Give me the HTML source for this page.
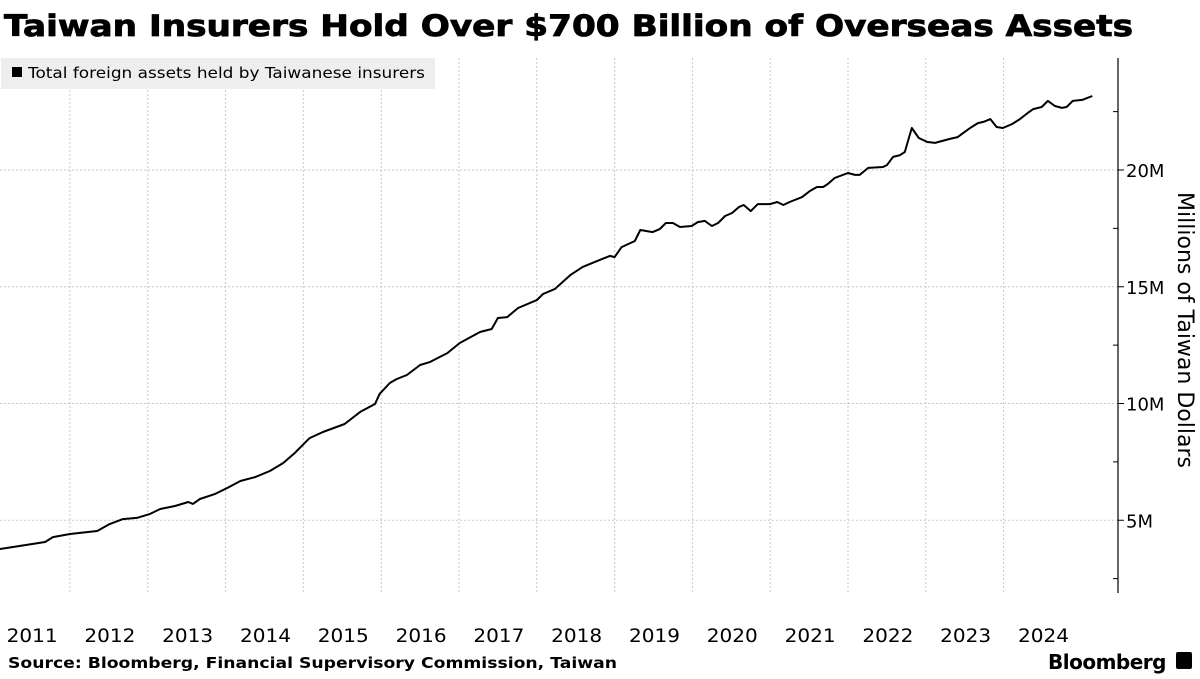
<!DOCTYPE html>
<html><head><meta charset="utf-8"><style>
body{margin:0;background:#fff;width:1200px;height:675px;overflow:hidden;font-family:"DejaVu Sans","Liberation Sans",sans-serif}
svg text{font-family:"DejaVu Sans","Liberation Sans",sans-serif}
</style></head><body>
<svg width="1200" height="675">
<text x="4" y="36" font-size="29" font-weight="bold" fill="#000" textLength="1129" lengthAdjust="spacingAndGlyphs" stroke="#000" stroke-width="0.8">Taiwan Insurers Hold Over $700 Billion of Overseas Assets</text>
<g id="grid"></g>
<rect x="1" y="58" width="434" height="31" fill="#eeeeee"/>
<rect x="12" y="67" width="10" height="10" fill="#000"/>
<text x="28" y="78" font-size="15" fill="#000" textLength="397" lengthAdjust="spacingAndGlyphs">Total foreign assets held by Taiwanese insurers</text>
<g id="marks"></g>
<line x1="1118" y1="58" x2="1118" y2="593" stroke="#000" stroke-width="1.2"/>
<text transform="translate(1178,330) rotate(90)" text-anchor="middle" font-size="22" fill="#000">Millions of Taiwan Dollars</text>
<text x="8" y="668" font-size="15" font-weight="bold" fill="#000" textLength="609" lengthAdjust="spacingAndGlyphs">Source: Bloomberg, Financial Supervisory Commission, Taiwan</text>
<text x="1048" y="669" font-size="20" font-weight="bold" fill="#000" letter-spacing="-0.5">Bloomberg</text>
<rect x="1176" y="652" width="16" height="17" rx="2" fill="#000"/>
</svg>
<script>
const dates=[2011.10,2011.36,2011.68,2011.78,2012.00,2012.35,2012.51,2012.68,2012.86,2013.03,2013.16,2013.35,2013.52,2013.58,2013.67,2013.86,2014.02,2014.19,2014.38,2014.57,2014.74,2014.89,2015.08,2015.25,2015.53,2015.73,2015.92,2015.98,2016.11,2016.20,2016.33,2016.50,2016.63,2016.85,2017.01,2017.27,2017.42,2017.50,2017.62,2017.76,2018.00,2018.08,2018.23,2018.43,2018.59,2018.81,2018.94,2019.00,2019.09,2019.26,2019.33,2019.49,2019.58,2019.66,2019.75,2019.84,2019.99,2020.07,2020.16,2020.25,2020.33,2020.42,2020.51,2020.60,2020.66,2020.75,2020.84,2021.00,2021.09,2021.17,2021.25,2021.41,2021.51,2021.60,2021.68,2021.74,2021.83,2022.00,2022.09,2022.15,2022.26,2022.45,2022.50,2022.58,2022.67,2022.73,2022.82,2022.91,2023.02,2023.12,2023.31,2023.41,2023.48,2023.57,2023.67,2023.74,2023.83,2023.91,2023.99,2024.11,2024.21,2024.31,2024.38,2024.49,2024.57,2024.66,2024.75,2024.81,2024.89,2025.01,2025.14];
const values=[3.77,3.90,4.07,4.28,4.41,4.54,4.84,5.05,5.10,5.27,5.48,5.61,5.78,5.70,5.91,6.12,6.38,6.68,6.85,7.11,7.45,7.88,8.52,8.78,9.12,9.64,9.98,10.41,10.88,11.05,11.22,11.65,11.78,12.16,12.59,13.06,13.19,13.66,13.70,14.09,14.43,14.69,14.90,15.50,15.85,16.15,16.32,16.27,16.70,16.96,17.43,17.34,17.47,17.73,17.73,17.56,17.60,17.77,17.82,17.60,17.73,18.03,18.16,18.42,18.50,18.24,18.54,18.54,18.63,18.50,18.63,18.84,19.10,19.27,19.27,19.40,19.66,19.87,19.79,19.79,20.09,20.13,20.21,20.56,20.64,20.77,21.80,21.37,21.20,21.16,21.33,21.41,21.58,21.80,22.01,22.06,22.18,21.84,21.80,21.97,22.18,22.44,22.61,22.70,22.96,22.74,22.66,22.70,22.96,23.00,23.17];
const yearLabels=[2011,2012,2013,2014,2015,2016,2017,2018,2019,2020,2021,2022,2023,2024];
const yTicks=[5,10,15,20];
const yTickLabels=["5M","10M","15M","20M"];
const NS="http://www.w3.org/2000/svg";
function xs(yr){return 70+(yr-2012)*77.8;}
function ys(v){return 637-v*23.35;}
const grid=document.getElementById('grid'),marks=document.getElementById('marks');
function mk(tag,attrs,parent){const e=document.createElementNS(NS,tag);for(const k in attrs)e.setAttribute(k,attrs[k]);parent.appendChild(e);return e;}
yearLabels.forEach((yr,i)=>{
  if(i>0){const l=mk('line',{x1:xs(yr),x2:xs(yr),y1:58,y2:593,stroke:'#c8c8c8','stroke-dasharray':'2,2'},grid);
  
  }
  const t=mk('text',{x:xs(yr+0.5)+1,y:642,'text-anchor':'middle','font-size':19,fill:'#000',textLength:51,lengthAdjust:'spacingAndGlyphs'},grid);
  t.textContent=yr;
  
  
});
yTicks.forEach((v,i)=>{
  const l=mk('line',{x1:0,x2:1118,y1:ys(v),y2:ys(v),stroke:'#c8c8c8','stroke-dasharray':'2,2'},grid);
  
  
  const tk=mk('line',{x1:1118,x2:1124,y1:ys(v),y2:ys(v),stroke:'#000'},grid);
  
  
  const t=mk('text',{x:1126,y:ys(v)+7,'font-size':18,fill:'#000'},grid);
  t.textContent=yTickLabels[i];
  
  
});
[2.5,7.5,12.5,17.5,22.5].forEach(v=>{
  const tk=mk('line',{x1:1113,x2:1118,y1:ys(v),y2:ys(v),stroke:'#000'},grid);
  
  
});
const d=dates.map((t,i)=>(i?'L':'M')+xs(t).toFixed(1)+','+ys(values[i]).toFixed(1)).join(' ');
const p=mk('path',{d:d,fill:'none',stroke:'#000','stroke-width':2,'stroke-linejoin':'round'},marks);


</script>
</body></html>
